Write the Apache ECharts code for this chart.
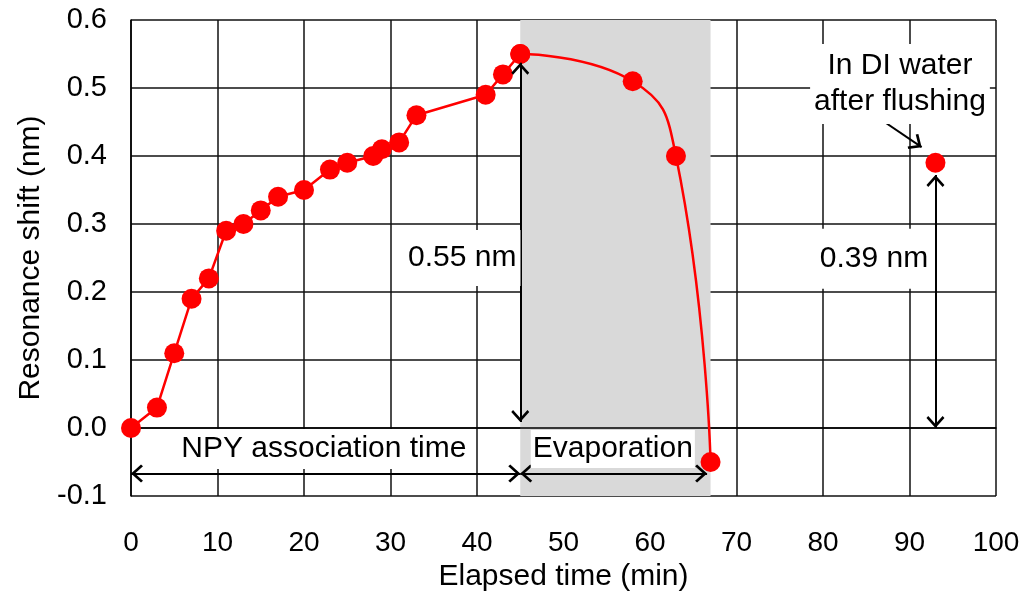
<!DOCTYPE html>
<html>
<head>
<meta charset="utf-8">
<script src="https://cdn.jsdelivr.net/npm/echarts@6/dist/echarts.min.js"></script>
<style>
  html, body { margin: 0; padding: 0; background: #fff; }
  #chart { width: 1025px; height: 604px; }
</style>
</head>
<body>
<div id="chart"></div>
<script>
// Elapsed time (min) and resonance shift (nm) during NPY association
const assocTime  = [0, 3, 5, 7, 9, 11, 13, 15, 17, 20, 23, 25, 28, 29, 31, 33, 41, 43, 45];
const assocShift = [0, 0.03, 0.11, 0.19, 0.22, 0.29, 0.30, 0.32, 0.34, 0.35, 0.38, 0.39, 0.40, 0.41, 0.42, 0.46, 0.49, 0.52, 0.55];

// Evaporation phase
const evapTime  = [45, 58, 63, 67];
const evapShift = [0.55, 0.51, 0.40, -0.05];

// Measurement in DI water after flushing
const flushTime  = [93];
const flushShift = [0.39];

// Axis ranges and tick spacing
const xTicks = { min: 0, max: 100, step: 10 };
const yTicks = { min: -0.1, max: 0.6, step: 0.1 };

// Phase boundaries (min)
const phaseBounds = [0, 45, 67];

const FONT = "'Liberation Sans', Arial, sans-serif";
const RED = '#ff0000';
const INK = '#000';

// Open chevron arrow head, tip at the symbol centre
const ARROW = 'path://M10,0 L10.01,0 Z M10,12 L20,22 L18,24 L10,16 L2,24 L0,22 Z';

const zip = (a, b) => a.map((v, i) => [v, b[i]]);

function arrow(from, to, both) {
  return [
    { coord: from, symbol: both ? ARROW : 'none' },
    { coord: to, symbol: ARROW }
  ];
}

function textLabel(pos, text, pad) {
  return {
    value: pos,
    label: {
      show: true,
      position: 'inside',
      formatter: text,
      fontFamily: FONT,
      fontSize: 30,
      lineHeight: 36,
      color: INK,
      backgroundColor: '#fff',
      padding: pad
    }
  };
}

const chart = echarts.init(document.getElementById('chart'), null, { renderer: 'canvas' });

chart.setOption({
  animation: false,
  backgroundColor: '#fff',
  grid: { left: 131, right: 29, top: 20, bottom: 108, containLabel: false },
  xAxis: {
    type: 'value',
    min: xTicks.min, max: xTicks.max, interval: xTicks.step,
    z: 1,
    name: 'Elapsed time (min)',
    nameLocation: 'middle',
    nameGap: 59,
    nameTextStyle: { fontFamily: FONT, fontSize: 30, color: INK },
    axisLine: { show: true, lineStyle: { color: INK, width: 1.5 } },
    axisTick: { show: false },
    axisLabel: { fontFamily: FONT, fontSize: 28, color: INK, margin: 33 },
    splitLine: { show: true, lineStyle: { color: '#111', width: 1.5 } }
  },
  yAxis: {
    type: 'value',
    min: yTicks.min, max: yTicks.max, interval: yTicks.step,
    z: 1,
    name: 'Resonance shift (nm)',
    nameLocation: 'middle',
    nameGap: 84,
    nameTextStyle: { fontFamily: FONT, fontSize: 30, color: INK },
    axisLine: { show: true, lineStyle: { color: INK, width: 1.5 } },
    axisTick: { show: false },
    axisLabel: {
      fontFamily: FONT, fontSize: 29, color: INK, margin: 24,
      formatter: v => (Math.abs(v) < 1e-9 ? 0 : v).toFixed(1)
    },
    splitLine: { show: true, lineStyle: { color: '#111', width: 1.5 } }
  },
  series: [
    {
      // shaded evaporation window, drawn under the grid lines
      name: 'evaporation window',
      type: 'line',
      data: [],
      z: 0,
      silent: true,
      markArea: {
        silent: true,
        itemStyle: { color: '#d9d9d9' },
        data: [[{ xAxis: phaseBounds[1] }, { xAxis: phaseBounds[2] }]]
      }
    },
    {
      name: 'association',
      type: 'line',
      data: zip(assocTime, assocShift),
      symbol: 'circle',
      symbolSize: 20,
      lineStyle: { color: RED, width: 2.5 },
      itemStyle: { color: RED },
      z: 3
    },
    {
      name: 'evaporation',
      type: 'line',
      data: zip(evapTime, evapShift),
      smooth: 0.5,
      symbol: 'circle',
      symbolSize: 20,
      lineStyle: { color: RED, width: 2.5 },
      itemStyle: { color: RED },
      z: 3
    },
    {
      name: 'DI water',
      type: 'scatter',
      data: zip(flushTime, flushShift),
      symbol: 'circle',
      symbolSize: 20,
      itemStyle: { color: RED, opacity: 1 },
      z: 3
    },
    {
      // annotation arrows
      name: 'arrows',
      type: 'line',
      data: [],
      z: 4,
      markLine: {
        silent: true,
        animation: false,
        symbolSize: [18, 24],
        label: { show: false },
        lineStyle: { color: INK, width: 2, type: 'solid', opacity: 1 },
        data: [
          arrow([assocTime[assocTime.length - 1], 0.537], [assocTime[assocTime.length - 1], 0.009], true),
          arrow([flushTime[0], 0.372], [flushTime[0], 0.0], true),
          arrow([phaseBounds[0], -0.067], [phaseBounds[1], -0.067], true),
          arrow([phaseBounds[1], -0.067], [66.6, -0.067], true),
          arrow([86.3, 0.457], [91.4, 0.413], false)
        ]
      }
    },
    {
      // annotation texts
      name: 'notes',
      type: 'scatter',
      symbolSize: 0,
      z: 5,
      silent: true,
      itemStyle: { opacity: 1 },
      data: [
        textLabel([22.3, -0.031], 'NPY association time', [2, 6]),
        textLabel([55.7, -0.031], 'Evaporation', [1, 2]),
        textLabel([38.3, 0.25], '0.55 nm', [10, 4]),
        textLabel([85.9, 0.249], '0.39 nm', [12, 4]),
        textLabel([88.9, 0.506], 'In DI water\nafter flushing', [4, 4])
      ]
    }
  ]
});
</script>
</body>
</html>
